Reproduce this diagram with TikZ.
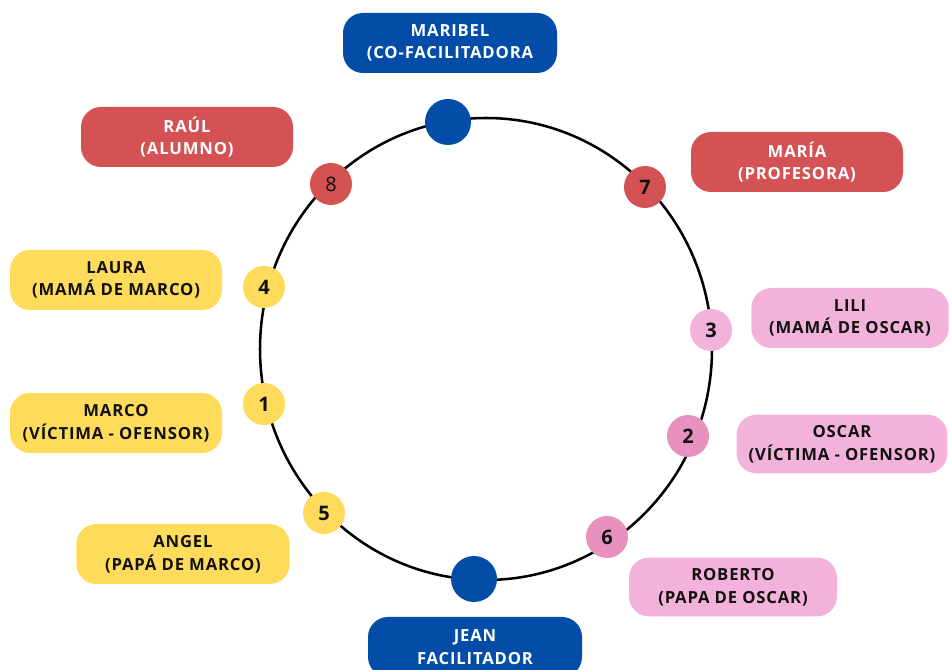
\documentclass[tikz,border=0pt]{standalone}
\usepackage{fontspec}
\setmainfont{Open Sans}
\newfontfamily\lblfont[LetterSpace=5]{Open Sans}
\definecolor{cblue}{HTML}{034DA8}
\definecolor{cred}{HTML}{D45254}
\definecolor{cyel}{HTML}{FEDB5A}
\definecolor{cpink}{HTML}{F2B2DA}
\definecolor{cpinkd}{HTML}{E890BE}
\definecolor{ctxt}{HTML}{111111}
\begin{document}
\begin{tikzpicture}[x=0.75pt,y=-0.75pt,
  lbl/.style={rounded corners=15pt, inner sep=0pt, align=center,
    font=\lblfont\bfseries\fontsize{12.5}{17}\selectfont},
  dotn/.style={circle, inner sep=0pt, minimum size=31.5pt,
    font=\bfseries\fontsize{15}{15}\selectfont, text=ctxt},
  big/.style={circle, inner sep=0pt, minimum size=34.5pt, fill=cblue}]
\useasboundingbox (0,0) rectangle (951,670);
\draw[line width=1.9pt, black] (486,349) ellipse [x radius=226, y radius=231];
% labels
\node[lbl, fill=cblue, text=white, minimum width=160.5pt, minimum height=45pt] (maribel) at (450,43) {MARIBEL\\(CO-FACILITADORA};
\node[lbl, fill=cred, text=white, minimum width=159pt, minimum height=45pt] (raul) at (187,137) {RAÚL\\(ALUMNO)};
\node[lbl, fill=cred, text=white, minimum width=159pt, minimum height=45pt] (maria) at (797,162) {MARÍA\\(PROFESORA)};
\node[lbl, fill=cyel, text=ctxt, minimum width=159pt, minimum height=45pt] (laura) at (116,280) {LAURA\\(MAMÁ DE MARCO)};
\node[lbl, fill=cyel, text=ctxt, minimum width=159pt, minimum height=45pt] (marco) at (116,423) {MARCO\\(VÍCTIMA - OFENSOR)};
\node[lbl, fill=cyel, text=ctxt, minimum width=160pt, minimum height=45pt] (angel) at (183,554) {ANGEL\\(PAPÁ DE MARCO)};
\node[lbl, fill=cpink, text=ctxt, minimum width=148pt, minimum height=45pt] (lili) at (850,318) {LILI\\(MAMÁ DE OSCAR)};
\node[lbl, fill=cpink, text=ctxt, minimum width=158pt, minimum height=44pt] (oscar) at (842,444) {OSCAR\\(VÍCTIMA - OFENSOR)};
\node[lbl, fill=cpink, text=ctxt, minimum width=156pt, minimum height=44pt] (roberto) at (733,587) {ROBERTO\\(PAPA DE OSCAR)};
\node[lbl, fill=cblue, text=white, minimum width=160.5pt, minimum height=45pt] (jean) at (475,647) {JEAN\\FACILITADOR};
% dots
\node[big] (top) at (448,122) {};
\node[big] (bottom) at (474,579) {};
\node[dotn, fill=cred] (d8) at (331,184) {\mdseries 8};
\node[dotn, fill=cred] (d7) at (645,187) {7};
\node[dotn, fill=cyel] (d4) at (264,287) {4};
\node[dotn, fill=cpink] (d3) at (711,330) {3};
\node[dotn, fill=cyel] (d1) at (264,404) {1};
\node[dotn, fill=cpinkd] (d2) at (688,436) {2};
\node[dotn, fill=cyel] (d5) at (324,513) {5};
\node[dotn, fill=cpinkd] (d6) at (607,537) {6};
\end{tikzpicture}
\end{document}
